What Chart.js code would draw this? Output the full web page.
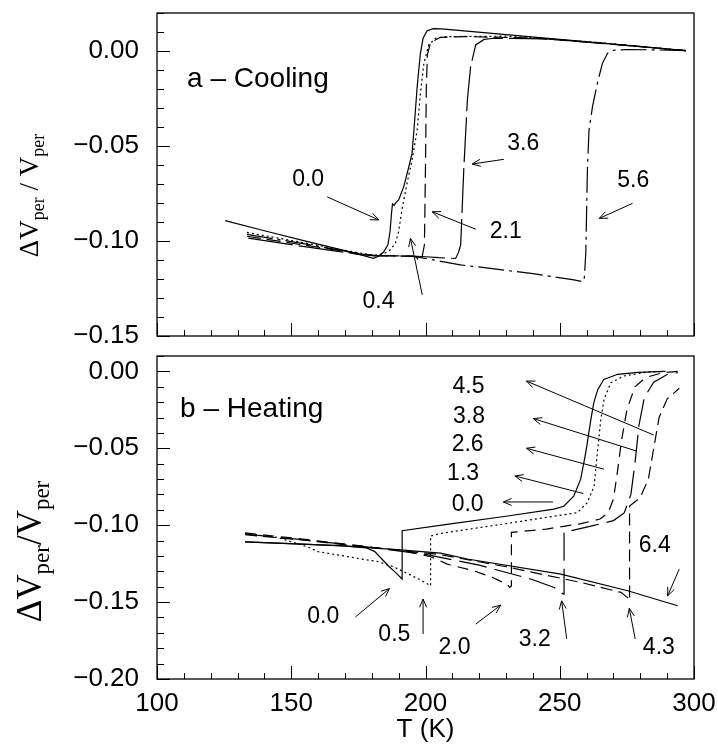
<!DOCTYPE html>
<html>
<head>
<meta charset="utf-8">
<script src="https://cdn.jsdelivr.net/npm/chart.js@4.4.0/dist/chart.umd.min.js"></script>
<style>
  html, body { margin: 0; padding: 0; background: #fff; }
  #wrap { position: relative; width: 718px; height: 751px; }
  #cool { position: absolute; left: 0; top: 0; }
  #heat { position: absolute; left: 0; top: 350px; }
</style>
</head>
<body>
<div id="wrap">
  <canvas id="cool" width="718" height="350"></canvas>
  <canvas id="heat" width="718" height="401"></canvas>
</div>
<script>
// temperature (K), dV/V pairs

// a - cooling
var cool00 = [[125.4,-0.0893],[140,-0.0946],[155,-0.0999],[170,-0.1051],[180.7,-0.1091],[182.5,-0.1080],
  [184.4,-0.1058],[186.0,-0.1020],[186.8,-0.0950],[187.3,-0.0860],[187.7,-0.0805],[188.3,-0.0812],
  [189.0,-0.0798],[190.0,-0.0784],[191.9,-0.0714],[193.8,-0.0609],[195.0,-0.0539],[195.7,-0.0416],
  [196.9,-0.0188],[198.1,-0.0012],[199.1,0.0067],[200.6,0.0107],[203.0,0.0118],[206,0.0116],[297,0.0002]];
var cool04 = [[133.5,-0.0955],[155,-0.1010],[175,-0.1062],[181,-0.1075],[184.4,-0.1068],[187,-0.1045],
  [188.8,-0.1012],[190,-0.0950],[191.3,-0.0830],[193.2,-0.0690],[195,-0.0574],[196.9,-0.0416],
  [198.1,-0.0223],[199.4,-0.0065],[201.2,0.0032],[203.7,0.0067],[208.1,0.0076],[230,0.0078],
  [260,0.0050],[297,0.0002]];
var cool21 = [[133.5,-0.0975],[155,-0.1022],[175,-0.1065],[181,-0.1076],[190,-0.1078],[196.5,-0.1082],
  [197.5,-0.1103],[198.6,-0.1092],[199.6,-0.1020],[200.0,-0.0600],[200.3,-0.0200],[200.7,-0.0020],
  [201.9,0.0045],[205.6,0.0072],[215,0.0076],[240,0.0068],[265,0.0042],[297,0.0002]];
var cool36 = [[134,-0.0985],[155,-0.1030],[175,-0.1070],[181,-0.1077],[195,-0.1080],[200,-0.1083],
  [205,-0.1088],[211.2,-0.1092],[212.3,-0.1060],[213.1,-0.1020],[214.3,-0.0609],[215.6,-0.0258],
  [216.8,-0.0082],[218.7,0.0032],[221.8,0.0061],[225.5,0.0067],[245,0.0064],[270,0.0035],[297,0.0002]];
var cool56 = [[133.5,-0.0965],[155,-0.1015],[175,-0.1066],[181,-0.1078],[195,-0.1080],[200,-0.1092],
  [213,-0.1126],[220.5,-0.1138],[240,-0.1172],[255.3,-0.1205],[258.5,-0.1214],[259.1,-0.1205],
  [259.7,-0.1065],[260.3,-0.0626],[260.9,-0.0416],[262.2,-0.0293],[264,-0.0170],[265.9,-0.0065],
  [267.8,-0.0012],[270.3,0.0005],[275.3,0.0008],[285,0.0006],[297.6,0.0002]];

// b - heating
var heat00 = [[132.8,-0.1108],[150,-0.1120],[169.5,-0.1134],[178,-0.1148],[181,-0.1170],[183.5,-0.1215],
  [186,-0.1262],[189,-0.1310],[191.3,-0.1350],[191.3,-0.1036],[210,-0.0990],[230,-0.0942],
  [247.8,-0.0896],[251.5,-0.0877],[255.2,-0.0812],[257.8,-0.0701],[259.7,-0.0526],[261.6,-0.0312],
  [262.7,-0.0201],[264.2,-0.0117],[266.4,-0.0052],[271.6,-0.0019],[279.1,-0.0006],[288.8,0.0000]];
var heat05 = [[132.8,-0.1054],[145,-0.1080],[155.9,-0.1140],[160,-0.1172],[169.5,-0.1200],[176,-0.1220],
  [182,-0.1235],[188,-0.1270],[194,-0.1320],[198,-0.1355],[201.9,-0.1394],[201.9,-0.1070],
  [205.6,-0.1054],[230,-0.0990],[256.6,-0.0918],[260.3,-0.0853],[262.8,-0.0745],[264.0,-0.0528],
  [265.3,-0.0312],[266.5,-0.0182],[269,-0.0074],[273.9,-0.0030],[282.7,-0.0004],[290,0.0000]];
var heat20 = [[132.8,-0.1050],[155,-0.1092],[175.7,-0.1134],[192,-0.1168],[202,-0.1205],[208.1,-0.1253],
  [218,-0.1297],[225,-0.1340],[230.5,-0.1385],[231.3,-0.1405],[232,-0.1395],[232,-0.1047],
  [245,-0.1025],[258,-0.0990],[265,-0.0960],[268,-0.0920],[270,-0.0830],[271.5,-0.0650],
  [273,-0.0450],[275,-0.0250],[278,-0.0100],[282,-0.0040],[288,-0.0010],[294,0.0000]];
var heat32 = [[132.8,-0.1058],[155,-0.1095],[175.7,-0.1136],[200,-0.1190],[220,-0.1260],[239.2,-0.1350],
  [247.9,-0.1405],[251.3,-0.1448],[251.6,-0.1448],[251.6,-0.1047],[262,-0.1005],[270,-0.0970],
  [274,-0.0920],[276.5,-0.0800],[278,-0.0600],[279.5,-0.0350],[281.5,-0.0170],[285,-0.0070],
  [290,-0.0020],[294,-0.0008]];
var heat43 = [[132.8,-0.1062],[155,-0.1098],[175.7,-0.1138],[205,-0.1190],[230,-0.1270],[257.8,-0.1372],
  [272.8,-0.1437],[275.5,-0.1475],[276,-0.1490],[276,-0.0875],[280,-0.0820],[283,-0.0700],
  [285,-0.0500],[287,-0.0300],[290,-0.0180],[294.5,-0.0110]];
var heat64 = [[132.8,-0.1108],[169.5,-0.1134],[191.9,-0.1162],[205.6,-0.1182],[215.6,-0.1220],
  [250.4,-0.1318],[275.3,-0.1426],[293.9,-0.1524]];

// field labels with arrows (data units): text spot, arrow tail, arrow tip
var coolNotes = [
  {label: '0.0', at: [156.3,-0.0711], from: [163.4,-0.0768], to: [182.6,-0.0889]},
  {label: '0.4', at: [182.5,-0.1353], from: [198.8,-0.1284], to: [194.4,-0.0986]},
  {label: '2.1', at: [229.9,-0.0984], from: [218.7,-0.0938], to: [202.5,-0.0846]},
  {label: '3.6', at: [236.4,-0.0521], from: [229.2,-0.0570], to: [217.4,-0.0595]},
  {label: '5.6', at: [277.4,-0.0714], from: [277.1,-0.0802], to: [264.7,-0.0881]}
];
var heatNotes = [
  {label: '0.0', at: [161.9,-0.1636], from: [173.9,-0.1597], to: [186.6,-0.1412]},
  {label: '0.5', at: [188.4,-0.1753], from: [199.1,-0.1708], to: [199.1,-0.1480]},
  {label: '2.0', at: [210.8,-0.1838], from: [218.7,-0.1643], to: [228.0,-0.1520]},
  {label: '3.2', at: [240.7,-0.1786], from: [252.6,-0.1740], to: [250.7,-0.1492]},
  {label: '4.3', at: [286.9,-0.1838], from: [278.1,-0.1740], to: [275.9,-0.1541]},
  {label: '6.4', at: [285.4,-0.1175], from: [294.5,-0.1286], to: [290.2,-0.1459]},
  {label: '4.5', at: [216.0,-0.0143], from: [285.0,-0.0414], to: [237.6,-0.0063]},
  {label: '3.8', at: [216.2,-0.0338], from: [278.6,-0.0518], to: [240.2,-0.0307]},
  {label: '2.6', at: [215.7,-0.0519], from: [266.5,-0.0636], to: [237.6,-0.0500]},
  {label: '1.3', at: [214.0,-0.0708], from: [258.8,-0.0794], to: [233.3,-0.0680]},
  {label: '0.0', at: [215.7,-0.0909], from: [247.5,-0.0849], to: [229.0,-0.0849]}
];

var SANS = '"Liberation Sans", Arial, sans-serif';
var SERIF = '"Liberation Serif", "Times New Roman", serif';

Chart.defaults.color = '#000';
Chart.defaults.font.family = SANS;

function pts(arr) {
  return arr.map(function (p) { return {x: p[0], y: p[1]}; });
}

function line(arr, dash) {
  return {
    data: pts(arr),
    borderColor: '#000',
    borderWidth: 1.2,
    borderDash: dash,
    pointRadius: 0,
    tension: 0,
    fill: false
  };
}

function yLabel(v) {
  var r = Math.round(v * 100);
  if (r % 5 !== 0) return '';
  if (r === 0) return '0.00';
  return (r < 0 ? '\u2212' : '') + (Math.abs(r) / 100).toFixed(2);
}

function arrow(ctx, x1, y1, x2, y2) {
  var a = Math.atan2(y2 - y1, x2 - x1), h = 9, w = 0.4;
  ctx.beginPath();
  ctx.moveTo(x1, y1); ctx.lineTo(x2, y2);
  ctx.moveTo(x2 - h * Math.cos(a - w), y2 - h * Math.sin(a - w));
  ctx.lineTo(x2, y2);
  ctx.lineTo(x2 - h * Math.cos(a + w), y2 - h * Math.sin(a + w));
  ctx.stroke();
}

// frame with inward ticks, panel name, arrows, y title with subscripts
var decor = {
  id: 'decor',
  afterDatasetsDraw: function (chart, args, o) {
    var ctx = chart.ctx, a = chart.chartArea;
    var x = chart.scales.x, y = chart.scales.y;
    ctx.save();
    ctx.strokeStyle = '#000';
    ctx.lineWidth = 1.3;
    ctx.strokeRect(a.left, a.top, a.right - a.left, a.bottom - a.top);
    ctx.lineWidth = 1;
    x.ticks.forEach(function (t) {
      var px = Math.round(x.getPixelForValue(t.value)) + 0.5;
      var len = Math.round(t.value) % 50 === 0 ? 13 : 6;
      ctx.beginPath(); ctx.moveTo(px, a.bottom); ctx.lineTo(px, a.bottom - len); ctx.stroke();
    });
    y.ticks.forEach(function (t) {
      var py = Math.round(y.getPixelForValue(t.value)) + 0.5;
      var len = Math.round(t.value * 100) % 5 === 0 ? 13 : 7;
      ctx.beginPath(); ctx.moveTo(a.left, py); ctx.lineTo(a.left + len, py); ctx.stroke();
    });

    ctx.fillStyle = '#000';
    ctx.font = '28px ' + SANS;
    ctx.textAlign = 'left';
    ctx.textBaseline = 'alphabetic';
    ctx.fillText(o.name, x.getPixelForValue(o.nameAt[0]), y.getPixelForValue(o.nameAt[1]));

    ctx.font = '23px ' + SANS;
    ctx.textAlign = 'center';
    ctx.lineWidth = 1;
    o.notes.forEach(function (n) {
      ctx.fillText(n.label, x.getPixelForValue(n.at[0]), y.getPixelForValue(n.at[1]));
      arrow(ctx, x.getPixelForValue(n.from[0]), y.getPixelForValue(n.from[1]),
        x.getPixelForValue(n.to[0]), y.getPixelForValue(n.to[1]));
    });

    // rotated y title
    var t = o.title;
    ctx.translate(t.x, (a.top + a.bottom) / 2 + t.dy);
    ctx.rotate(-Math.PI / 2);
    ctx.textAlign = 'left';
    var total = 0;
    t.parts.forEach(function (p) {
      ctx.font = (p[1] ? t.sub : t.main) + 'px ' + SERIF;
      total += ctx.measureText(p[0]).width;
    });
    var cx = -total / 2;
    t.parts.forEach(function (p) {
      ctx.font = (p[1] ? t.sub : t.main) + 'px ' + SERIF;
      ctx.fillText(p[0], cx, p[1] ? t.shift : 0);
      cx += ctx.measureText(p[0]).width;
    });
    ctx.restore();
  }
};

function options(yMin, yMax, bottomAxis, deco, pad) {
  return {
    responsive: false,
    animation: false,
    layout: {padding: pad},
    plugins: {legend: {display: false}, tooltip: {enabled: false}, decor: deco},
    scales: {
      x: {
        type: 'linear', min: 100, max: 300,
        grid: {display: false, drawTicks: false}, border: {display: false},
        ticks: {
          display: bottomAxis, stepSize: 10, autoSkip: false, maxRotation: 0,
          font: {size: 26}, padding: 9,
          callback: function (v) { return Math.round(v) % 50 === 0 ? String(Math.round(v)) : ''; }
        },
        title: {display: bottomAxis, text: 'T (K)', font: {size: 26}, padding: {top: 0, bottom: 6}},
        afterFit: function (s) {
          s.height = bottomAxis ? 72 : 0;
          s.paddingLeft = 0; s.paddingRight = 0;
        }
      },
      y: {
        min: yMin, max: yMax,
        grid: {display: false, drawTicks: false}, border: {display: false},
        ticks: {stepSize: 0.01, autoSkip: false, font: {size: 26}, padding: 18, callback: yLabel},
        afterFit: function (s) {
          s.width = 157;
          s.paddingTop = 0; s.paddingBottom = 0;
        }
      }
    }
  };
}

new Chart(document.getElementById('cool'), {
  type: 'line',
  data: {datasets: [
    line(cool00, []),
    line(cool04, [2, 3]),
    line(cool21, [14, 6]),
    line(cool36, [45, 6]),
    line(cool56, [26, 5, 3, 5])
  ]},
  options: options(-0.15, 0.02, false, {
    name: 'a \u2013 Cooling', nameAt: [111.2, -0.0189], notes: coolNotes,
    title: {x: 38, dy: 21, main: 27, sub: 18, shift: 6,
      parts: [['\u0394V', 0], ['per', 1], [' / ', 0], ['V', 0], ['per', 1]]}
  }, {top: 13, right: 24, bottom: 14, left: 0}),
  plugins: [decor]
});

new Chart(document.getElementById('heat'), {
  type: 'line',
  data: {datasets: [
    line(heat00, []),
    line(heat05, [2, 3]),
    line(heat20, [11, 7]),
    line(heat32, [28, 8]),
    line(heat43, [12, 6]),
    line(heat64, [])
  ]},
  options: options(-0.20, 0.01, true, {
    name: 'b \u2013 Heating', nameAt: [108.6, -0.0299], notes: heatNotes,
    title: {x: 41, dy: 34, main: 35, sub: 23, shift: 8,
      parts: [['\u0394V', 0], ['per', 1], ['/', 0], ['V', 0], ['per', 1]]}
  }, {top: 6, right: 24, bottom: 0, left: 0}),
  plugins: [decor]
});
</script>
</body>
</html>
